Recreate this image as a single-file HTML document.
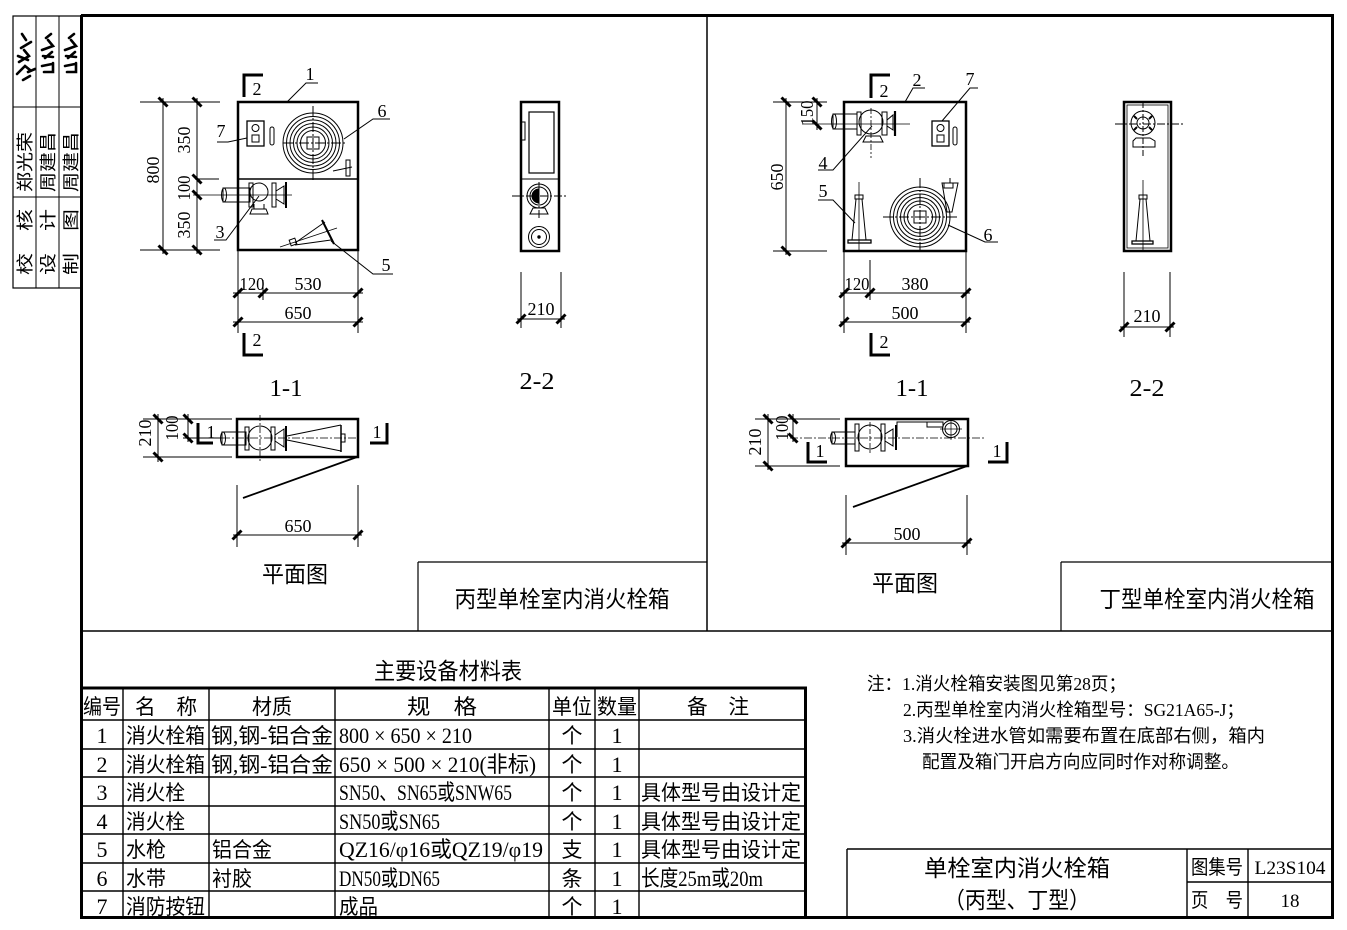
<!DOCTYPE html>
<html><head><meta charset="utf-8">
<style>
html,body{margin:0;padding:0;background:#fff;}
svg{display:block}
text{font-family:"Liberation Serif","Noto Sans CJK SC",serif;fill:#000;stroke:none}
.z{font-family:"Liberation Sans","Noto Sans CJK SC",sans-serif}
</style></head><body>
<svg width="1347" height="930" viewBox="0 0 1347 930" xmlns="http://www.w3.org/2000/svg">
<defs>
<path id="t" d="M-4.5,4.5 L4.5,-4.5" stroke="#000" stroke-width="3" fill="none"/>
<path id="tv" d="M-4.5,-4.5 L4.5,4.5" stroke="#000" stroke-width="3" fill="none"/>
</defs>
<g fill="none" stroke="#000" stroke-width="1">

<!-- ===== frame ===== -->
<line x1="81" y1="15.5" x2="1334" y2="15.5" stroke-width="3"/>
<line x1="81.5" y1="15" x2="81.5" y2="919" stroke-width="3"/>
<line x1="1332.5" y1="15" x2="1332.5" y2="919" stroke-width="3"/>
<line x1="81" y1="917.5" x2="1334" y2="917.5" stroke-width="3"/>
<line x1="707" y1="16" x2="707" y2="631" stroke-width="1.5"/>
<line x1="82" y1="631" x2="1332" y2="631" stroke-width="1.5"/>

<!-- signature block -->
<rect x="13" y="16" width="69" height="272" stroke-width="1.2"/>
<line x1="36" y1="16" x2="36" y2="288"/>
<line x1="59" y1="16" x2="59" y2="288"/>
<line x1="13" y1="107" x2="82" y2="107"/>
<line x1="13" y1="197" x2="82" y2="197"/>
<g stroke-width="2.6" stroke-linecap="round">
<path d="M17,74 L25,66 L30,70 M19,62 L29,56 L24,50 M21,48 L31,42 M26,40 L22,34 M18,56 L28,60 M28,72 L35,69 M23,80 L30,76"/>
<path d="M44,72 L53,72 L53,63 M42,66 L52,64 M45,58 L52,52 M42,50 L53,46 L48,40 M46,38 L51,34 M43,56 L53,57"/>
<path d="M67,72 L76,72 L76,63 M65,66 L75,64 M68,58 L75,52 M65,50 L76,46 L71,40 M69,38 L74,34 M66,56 L76,57"/>
</g>

<!-- ===== LEFT 1-1 ===== -->
<rect x="238" y="102" width="120" height="148" stroke-width="2.5"/>
<line x1="238" y1="179" x2="358" y2="179" stroke-width="1.5"/>
<line x1="140" y1="102" x2="220" y2="102"/>
<line x1="140" y1="250" x2="220" y2="250"/>
<line x1="195" y1="179" x2="219" y2="179"/>
<line x1="163" y1="98" x2="163" y2="254"/>
<line x1="197" y1="98" x2="197" y2="254"/>
<line x1="193" y1="195" x2="292" y2="195" stroke-width="0.8"/>
<path d="M263,75 L244,75 L244,97" stroke-width="3"/>
<path d="M244,333 L244,355 L263,355" stroke-width="3"/>
<path d="M287,102 L306,83 L318,83"/>
<g>
<circle cx="313" cy="143" r="30"/><circle cx="313" cy="143" r="26.5"/><circle cx="313" cy="143" r="23"/>
<circle cx="313" cy="143" r="19.5"/><circle cx="313" cy="143" r="16"/><circle cx="313" cy="143" r="12.5"/>
<rect x="307" y="137" width="12" height="12"/>
<line x1="283" y1="143" x2="345" y2="143" stroke-dasharray="10 2 2 2"/>
<line x1="313" y1="106" x2="313" y2="181" stroke-dasharray="10 2 2 2"/>
<path d="M333,171 L352,167"/><rect x="346" y="160" width="4" height="16"/>
</g>
<path d="M344,139 L373,119 L390,119"/>
<rect x="247" y="121" width="17" height="25" stroke-width="1.3"/>
<circle cx="255.5" cy="128" r="3.5"/>
<rect x="252" y="135" width="7" height="7"/>
<rect x="270" y="127" width="4" height="18" rx="2"/>
<path d="M247,138 L228,142 L217,142"/>
<rect x="223" y="188" width="27" height="14"/>
<ellipse cx="224" cy="195" rx="2.5" ry="7"/>
<rect x="249" y="183" width="4" height="24"/>
<circle cx="259" cy="192" r="9"/>
<rect x="272" y="183" width="4" height="24"/>
<path d="M276,191 L284,186 L284,204 L276,199"/>
<line x1="286" y1="182" x2="286" y2="208" stroke-width="2"/>
<path d="M254,204 L254,209 L264,209 L264,204 M250,214 L268,214 L266,209 L252,209 Z"/>
<path d="M259,196 L226,240 L214,240"/>
<line x1="280" y1="247" x2="337" y2="228" stroke-width="0.8"/>
<path d="M295,243 L325,222 M295,245 L331,240"/>
<rect x="290" y="239" width="6" height="6" transform="rotate(-20 293 242)"/>
<path d="M322,220 L334,244" stroke-width="2"/>
<path d="M331,241 L373,274 L393,274"/>
<line x1="238" y1="250" x2="238" y2="333"/>
<line x1="358" y1="250" x2="358" y2="333"/>
<line x1="263" y1="280" x2="263" y2="300"/>
<line x1="233" y1="293" x2="363" y2="293"/>
<line x1="233" y1="322" x2="363" y2="322"/>

<!-- ===== LEFT 2-2 ===== -->
<rect x="521" y="102" width="38" height="149" stroke-width="2.5"/>
<rect x="529" y="112" width="25" height="61" stroke-width="1.2"/>
<rect x="521" y="122" width="4" height="18"/>
<line x1="521" y1="179" x2="559" y2="179"/>
<circle cx="539" cy="196" r="12"/>
<circle cx="539" cy="196" r="9"/>
<path d="M539,189 A7,7 0 0 0 539,203 Z" fill="#000"/>
<line x1="512" y1="196" x2="566" y2="196" stroke-dasharray="8 2 2 2"/>
<line x1="539" y1="182" x2="539" y2="218" stroke-dasharray="8 2 2 2"/>
<path d="M530,214 L548,214 L545,208 L533,208 Z"/>
<circle cx="539" cy="237" r="10.5"/>
<circle cx="539" cy="237" r="7.5"/>
<circle cx="539" cy="237" r="1.2" fill="#000"/>
<line x1="521" y1="272" x2="521" y2="328"/>
<line x1="561" y1="272" x2="561" y2="328"/>
<line x1="517" y1="319" x2="565" y2="319"/>

<!-- ===== LEFT PLAN ===== -->
<rect x="237" y="419" width="121" height="38" stroke-width="2.5"/>
<line x1="143" y1="419" x2="232" y2="419"/>
<line x1="143" y1="457" x2="232" y2="457"/>
<line x1="183" y1="438" x2="222" y2="438"/>
<line x1="222" y1="438" x2="358" y2="438" stroke-dasharray="8 2 2 2" stroke-width="0.8"/>
<line x1="158" y1="414" x2="158" y2="462"/>
<line x1="188" y1="414" x2="188" y2="442"/>
<path d="M198,423 L198,443 L213,443" stroke-width="3"/>
<path d="M370,443 L387,443 L387,423" stroke-width="3"/>
<rect x="222" y="432" width="24" height="13"/>
<ellipse cx="223" cy="438.5" rx="2.5" ry="6.5"/>
<rect x="245" y="427" width="4" height="23"/>
<circle cx="260" cy="438" r="12"/>
<line x1="260" y1="415" x2="260" y2="461" stroke-dasharray="6 2 2 2" stroke-width="0.8"/>
<rect x="271" y="427" width="4" height="23"/>
<path d="M275,435 L284,429 L284,447 L275,441"/>
<line x1="286" y1="426" x2="286" y2="451" stroke-width="2"/>
<path d="M287,436 L341,425 M287,440 L341,451"/>
<line x1="341" y1="425" x2="341" y2="452" stroke-width="1.5"/>
<rect x="341" y="434" width="4" height="8"/>
<line x1="357" y1="457" x2="243" y2="498" stroke-width="1.8"/>
<line x1="237" y1="485" x2="237" y2="547"/>
<line x1="358" y1="485" x2="358" y2="547"/>
<line x1="233" y1="535" x2="362" y2="535"/>

<line x1="418" y1="562" x2="707" y2="562" stroke-width="1.2"/>
<line x1="418" y1="562" x2="418" y2="631" stroke-width="1.2"/>

<!-- ===== RIGHT 1-1 ===== -->
<rect x="844" y="102" width="122" height="149" stroke-width="2.5"/>
<line x1="773" y1="102" x2="827" y2="102"/>
<line x1="773" y1="251" x2="827" y2="251"/>
<line x1="786" y1="98" x2="786" y2="255"/>
<line x1="817" y1="98" x2="817" y2="130"/>
<line x1="802" y1="124" x2="910" y2="124" stroke-width="0.8"/>
<path d="M890,75 L871,75 L871,98" stroke-width="3"/>
<path d="M871,333 L871,355 L890,355" stroke-width="3"/>
<path d="M905,102 L913,88 L925,88"/>
<rect x="833" y="114" width="24" height="15"/>
<ellipse cx="834" cy="121.5" rx="2.5" ry="7.5"/>
<rect x="857" y="112" width="4" height="23"/>
<circle cx="871" cy="122" r="12"/>
<rect x="882" y="112" width="5" height="23"/>
<path d="M887,120 L893,115 L893,130 L887,126"/>
<line x1="895" y1="111" x2="895" y2="136" stroke-width="2.2"/>
<path d="M863,142 L883,142 L880,136 L866,136 Z"/>
<line x1="871" y1="108" x2="871" y2="158" stroke-dasharray="6 2 2 2" stroke-width="0.8"/>
<path d="M872,126 L833,170 L818,170"/>
<rect x="932" y="121" width="17" height="25" stroke-width="1.3"/>
<circle cx="940.5" cy="128" r="3.5"/>
<rect x="937" y="135" width="7" height="7"/>
<rect x="953" y="127" width="4" height="18" rx="2"/>
<path d="M942,121 L970,88 L978,88"/>
<line x1="859" y1="182" x2="859" y2="250" stroke-width="0.8"/>
<rect x="855" y="195" width="8" height="4"/>
<path d="M856,199 L852,240 M862,199 L866,240"/>
<rect x="848" y="240" width="23" height="3" stroke-width="1.3"/>
<path d="M855,223 L833,200 L818,200"/>
<circle cx="920" cy="217" r="30"/><circle cx="920" cy="217" r="26.5"/><circle cx="920" cy="217" r="23"/>
<circle cx="920" cy="217" r="19.5"/><circle cx="920" cy="217" r="16"/><circle cx="920" cy="217" r="12.5"/>
<rect x="914" y="211" width="12" height="12"/>
<line x1="883" y1="217" x2="957" y2="217" stroke-dasharray="10 2 2 2"/>
<line x1="920" y1="178" x2="920" y2="254" stroke-dasharray="10 2 2 2"/>
<path d="M942,183 L958,183 L952,212 L947,212 Z"/>
<rect x="944" y="183" width="9" height="5"/>
<line x1="950" y1="178" x2="950" y2="183"/>
<path d="M948,225 L985,242 L998,242"/>
<line x1="844" y1="251" x2="844" y2="333"/>
<line x1="966" y1="251" x2="966" y2="333"/>
<line x1="870" y1="260" x2="870" y2="300"/>
<line x1="840" y1="293" x2="970" y2="293"/>
<line x1="840" y1="322" x2="970" y2="322"/>

<!-- ===== RIGHT 2-2 ===== -->
<rect x="1124" y="102" width="47" height="149" stroke-width="2.5"/>
<rect x="1127" y="105" width="41" height="143" stroke-width="0.8"/>
<line x1="1115" y1="124" x2="1185" y2="124" stroke-dasharray="8 2 2 2"/>
<line x1="1143" y1="102" x2="1143" y2="158" stroke-dasharray="6 2 2 2"/>
<circle cx="1143" cy="123" r="12"/>
<circle cx="1143" cy="123" r="6"/>
<path d="M1134,116 L1137,119 M1152,116 L1149,119 M1134,130 L1137,127 M1152,130 L1149,127" stroke-width="2"/>
<path d="M1136,138 L1150,138 L1155,141 L1155,147 L1133,147 L1133,141 Z"/>
<line x1="1143" y1="180" x2="1143" y2="250" stroke-width="0.8"/>
<rect x="1139" y="195" width="8" height="4"/>
<path d="M1140,199 L1136,241 M1146,199 L1150,241"/>
<rect x="1132" y="241" width="21" height="3" stroke-width="1.3"/>
<line x1="1124" y1="272" x2="1124" y2="337"/>
<line x1="1170" y1="272" x2="1170" y2="337"/>
<line x1="1120" y1="327" x2="1174" y2="327"/>

<!-- ===== RIGHT PLAN ===== -->
<rect x="846" y="419" width="122" height="47" stroke-width="2.5"/>
<line x1="755" y1="419" x2="840" y2="419"/>
<line x1="755" y1="466" x2="840" y2="466"/>
<line x1="790" y1="438" x2="985" y2="438" stroke-dasharray="8 2 2 2" stroke-width="0.8"/>
<line x1="768" y1="414" x2="768" y2="470"/>
<line x1="793" y1="414" x2="793" y2="442"/>
<path d="M808,442 L808,462 L827,462" stroke-width="3"/>
<path d="M988,462 L1007,462 L1007,442" stroke-width="3"/>
<rect x="832" y="432" width="23" height="12"/>
<ellipse cx="833" cy="438" rx="2.5" ry="6"/>
<rect x="855" y="424" width="4" height="27"/>
<circle cx="870" cy="437" r="12"/>
<line x1="870" y1="422" x2="870" y2="453" stroke-width="0.8" stroke-dasharray="5 2"/>
<rect x="881" y="424" width="4" height="27"/>
<path d="M885,434 L893,429 L893,446 L885,441"/>
<line x1="896" y1="425" x2="896" y2="450" stroke-width="2"/>
<path d="M897,437 L897,422 L943,422"/>
<rect x="927" y="422" width="16" height="5"/>
<circle cx="951" cy="429" r="8.5"/>
<circle cx="951" cy="429" r="6"/>
<line x1="940" y1="429" x2="962" y2="429" stroke-width="0.7"/>
<line x1="951" y1="418" x2="951" y2="440" stroke-width="0.7"/>
<line x1="967" y1="466" x2="853" y2="507" stroke-width="1.8"/>
<line x1="846" y1="495" x2="846" y2="555"/>
<line x1="967" y1="495" x2="967" y2="555"/>
<line x1="842" y1="543" x2="971" y2="543"/>

<line x1="1061" y1="562" x2="1333" y2="562" stroke-width="1.2"/>
<line x1="1061" y1="562" x2="1061" y2="631" stroke-width="1.2"/>

<!-- ===== TABLE ===== -->
<line x1="81" y1="688" x2="807" y2="688" stroke-width="3"/>
<line x1="805.5" y1="687" x2="805.5" y2="918" stroke-width="3"/>
<g stroke-width="1.4">
<line x1="82" y1="720" x2="805" y2="720"/>
<line x1="82" y1="749" x2="805" y2="749"/>
<line x1="82" y1="777" x2="805" y2="777"/>
<line x1="82" y1="806" x2="805" y2="806"/>
<line x1="82" y1="834" x2="805" y2="834"/>
<line x1="82" y1="863" x2="805" y2="863"/>
<line x1="82" y1="891" x2="805" y2="891"/>
<line x1="123" y1="688" x2="123" y2="917"/>
<line x1="209" y1="688" x2="209" y2="917"/>
<line x1="335" y1="688" x2="335" y2="917"/>
<line x1="549" y1="688" x2="549" y2="917"/>
<line x1="595" y1="688" x2="595" y2="917"/>
<line x1="639" y1="688" x2="639" y2="917"/>
</g>

<!-- ===== TITLE BLOCK ===== -->
<g stroke-width="1.4">
<line x1="847" y1="849" x2="1332" y2="849"/>
<line x1="847" y1="849" x2="847" y2="917"/>
<line x1="1187" y1="849" x2="1187" y2="917"/>
<line x1="1248" y1="849" x2="1248" y2="917"/>
<line x1="1187" y1="882" x2="1332" y2="882"/>
</g>
</g>

<!-- ===== TICKS ===== -->
<use href="#tv" x="163" y="102"/><use href="#tv" x="163" y="250"/>
<use href="#tv" x="197" y="102"/><use href="#tv" x="197" y="179"/><use href="#tv" x="197" y="195"/><use href="#tv" x="197" y="250"/>
<use href="#t" x="238" y="293"/><use href="#t" x="263" y="293"/><use href="#t" x="358" y="293"/>
<use href="#t" x="238" y="322"/><use href="#t" x="358" y="322"/>
<use href="#t" x="521" y="319"/><use href="#t" x="561" y="319"/>
<use href="#tv" x="158" y="419"/><use href="#tv" x="158" y="457"/>
<use href="#tv" x="188" y="419"/><use href="#tv" x="188" y="438"/>
<use href="#t" x="237" y="535"/><use href="#t" x="358" y="535"/>
<use href="#tv" x="786" y="102"/><use href="#tv" x="786" y="251"/>
<use href="#tv" x="817" y="102"/><use href="#tv" x="817" y="125"/>
<use href="#t" x="844" y="293"/><use href="#t" x="870" y="293"/><use href="#t" x="966" y="293"/>
<use href="#t" x="844" y="322"/><use href="#t" x="966" y="322"/>
<use href="#t" x="1124" y="327"/><use href="#t" x="1170" y="327"/>
<use href="#tv" x="768" y="419"/><use href="#tv" x="768" y="466"/>
<use href="#tv" x="793" y="419"/><use href="#tv" x="793" y="438"/>
<use href="#t" x="846" y="543"/><use href="#t" x="967" y="543"/>

<!-- ===== TEXT ===== -->
<g font-size="17" class="z">
<text transform="translate(31,242) rotate(-90)" text-anchor="middle" textLength="66" lengthAdjust="spacingAndGlyphs">校　核</text>
<text transform="translate(31,162) rotate(-90)" text-anchor="middle" textLength="60" lengthAdjust="spacingAndGlyphs">郑光荣</text>
<text transform="translate(54,242) rotate(-90)" text-anchor="middle" textLength="66" lengthAdjust="spacingAndGlyphs">设　计</text>
<text transform="translate(54,162) rotate(-90)" text-anchor="middle" textLength="60" lengthAdjust="spacingAndGlyphs">周建昌</text>
<text transform="translate(77,242) rotate(-90)" text-anchor="middle" textLength="66" lengthAdjust="spacingAndGlyphs">制　图</text>
<text transform="translate(77,162) rotate(-90)" text-anchor="middle" textLength="60" lengthAdjust="spacingAndGlyphs">周建昌</text>
</g>

<g font-size="18" text-anchor="middle">
<text x="257" y="95">2</text>
<text x="257" y="346">2</text>
<text x="310" y="80">1</text>
<text x="382" y="117">6</text>
<text x="221" y="137">7</text>
<text x="220" y="238">3</text>
<text x="386" y="271">5</text>
<text transform="translate(159,170) rotate(-90)" textLength="27" lengthAdjust="spacingAndGlyphs">800</text>
<text transform="translate(190,140) rotate(-90)" textLength="27" lengthAdjust="spacingAndGlyphs">350</text>
<text transform="translate(190,188) rotate(-90)" textLength="25" lengthAdjust="spacingAndGlyphs">100</text>
<text transform="translate(190,225) rotate(-90)" textLength="27" lengthAdjust="spacingAndGlyphs">350</text>
<text x="252" y="290" textLength="25" lengthAdjust="spacingAndGlyphs">120</text>
<text x="308" y="290" textLength="27" lengthAdjust="spacingAndGlyphs">530</text>
<text x="298" y="319" textLength="27" lengthAdjust="spacingAndGlyphs">650</text>
<text x="541" y="315" textLength="27" lengthAdjust="spacingAndGlyphs">210</text>
<text x="211" y="438">1</text>
<text x="377" y="438">1</text>
<text transform="translate(151,433) rotate(-90)" textLength="27" lengthAdjust="spacingAndGlyphs">210</text>
<text transform="translate(178,428) rotate(-90)" textLength="25" lengthAdjust="spacingAndGlyphs">100</text>
<text x="298" y="532" textLength="27" lengthAdjust="spacingAndGlyphs">650</text>
<text x="884" y="97">2</text>
<text x="884" y="348">2</text>
<text x="917" y="86">2</text>
<text x="970" y="85">7</text>
<text x="823" y="169">4</text>
<text x="823" y="197">5</text>
<text x="988" y="241">6</text>
<text transform="translate(783,177) rotate(-90)" textLength="27" lengthAdjust="spacingAndGlyphs">650</text>
<text transform="translate(813,113) rotate(-90)" textLength="25" lengthAdjust="spacingAndGlyphs">150</text>
<text x="857" y="290" textLength="25" lengthAdjust="spacingAndGlyphs">120</text>
<text x="915" y="290" textLength="27" lengthAdjust="spacingAndGlyphs">380</text>
<text x="905" y="319" textLength="27" lengthAdjust="spacingAndGlyphs">500</text>
<text x="1147" y="322" textLength="27" lengthAdjust="spacingAndGlyphs">210</text>
<text x="820" y="457">1</text>
<text x="997" y="457">1</text>
<text transform="translate(761,442) rotate(-90)" textLength="27" lengthAdjust="spacingAndGlyphs">210</text>
<text transform="translate(788,428) rotate(-90)" textLength="25" lengthAdjust="spacingAndGlyphs">100</text>
<text x="907" y="540" textLength="27" lengthAdjust="spacingAndGlyphs">500</text>
</g>

<g font-size="24" text-anchor="middle">
<text x="286" y="396" textLength="33" lengthAdjust="spacingAndGlyphs">1-1</text>
<text x="537" y="389" textLength="35" lengthAdjust="spacingAndGlyphs">2-2</text>
<text x="912" y="396" textLength="33" lengthAdjust="spacingAndGlyphs">1-1</text>
<text x="1147" y="396" textLength="35" lengthAdjust="spacingAndGlyphs">2-2</text>
</g>

<g class="z" font-size="23" text-anchor="middle">
<text x="295" y="582" textLength="66" lengthAdjust="spacingAndGlyphs">平面图</text>
<text x="905" y="591" textLength="66" lengthAdjust="spacingAndGlyphs">平面图</text>
<text x="562" y="607" textLength="215" lengthAdjust="spacingAndGlyphs">丙型单栓室内消火栓箱</text>
<text x="1207" y="607" textLength="215" lengthAdjust="spacingAndGlyphs">丁型单栓室内消火栓箱</text>
<text x="448" y="679" textLength="148" lengthAdjust="spacingAndGlyphs">主要设备材料表</text>
</g>

<!-- table text -->
<g class="z" font-size="21">
<text x="102" y="714" text-anchor="middle" textLength="38" lengthAdjust="spacingAndGlyphs">编号</text>
<text x="166" y="714" text-anchor="middle" textLength="62" lengthAdjust="spacingAndGlyphs">名　称</text>
<text x="272" y="714" text-anchor="middle" textLength="40" lengthAdjust="spacingAndGlyphs">材质</text>
<text x="442" y="714" text-anchor="middle" textLength="70" lengthAdjust="spacingAndGlyphs">规　格</text>
<text x="572" y="714" text-anchor="middle" textLength="40" lengthAdjust="spacingAndGlyphs">单位</text>
<text x="617" y="714" text-anchor="middle" textLength="40" lengthAdjust="spacingAndGlyphs">数量</text>
<text x="718" y="714" text-anchor="middle" textLength="62" lengthAdjust="spacingAndGlyphs">备　注</text>

<text x="126" y="743" textLength="79" lengthAdjust="spacingAndGlyphs">消火栓箱</text>
<text x="211" y="743" textLength="122" lengthAdjust="spacingAndGlyphs">钢,钢-铝合金</text>
<text x="126" y="772" textLength="79" lengthAdjust="spacingAndGlyphs">消火栓箱</text>
<text x="211" y="772" textLength="122" lengthAdjust="spacingAndGlyphs">钢,钢-铝合金</text>
<text x="126" y="800" textLength="59" lengthAdjust="spacingAndGlyphs">消火栓</text>
<text x="126" y="829" textLength="59" lengthAdjust="spacingAndGlyphs">消火栓</text>
<text x="126" y="857" textLength="40" lengthAdjust="spacingAndGlyphs">水枪</text>
<text x="212" y="857" textLength="60" lengthAdjust="spacingAndGlyphs">铝合金</text>
<text x="126" y="886" textLength="40" lengthAdjust="spacingAndGlyphs">水带</text>
<text x="212" y="886" textLength="40" lengthAdjust="spacingAndGlyphs">衬胶</text>
<text x="126" y="914" textLength="79" lengthAdjust="spacingAndGlyphs">消防按钮</text>
<text x="339" y="914" textLength="39" lengthAdjust="spacingAndGlyphs">成品</text>

<g text-anchor="middle">
<text x="572" y="743">个</text><text x="572" y="772">个</text><text x="572" y="800">个</text>
<text x="572" y="829">个</text><text x="572" y="857">支</text><text x="572" y="886">条</text><text x="572" y="914">个</text>
</g>
<text x="641" y="800" textLength="160" lengthAdjust="spacingAndGlyphs">具体型号由设计定</text>
<text x="641" y="829" textLength="160" lengthAdjust="spacingAndGlyphs">具体型号由设计定</text>
<text x="641" y="857" textLength="160" lengthAdjust="spacingAndGlyphs">具体型号由设计定</text>
</g>
<g font-size="22">
<g text-anchor="middle">
<text x="102" y="743">1</text><text x="102" y="772">2</text><text x="102" y="800">3</text><text x="102" y="829">4</text>
<text x="102" y="857">5</text><text x="102" y="886">6</text><text x="102" y="914">7</text>
<text x="617" y="743">1</text><text x="617" y="772">1</text><text x="617" y="800">1</text><text x="617" y="829">1</text>
<text x="617" y="857">1</text><text x="617" y="886">1</text><text x="617" y="914">1</text>
</g>
<text x="339" y="743" textLength="133" lengthAdjust="spacingAndGlyphs">800 × 650 × 210</text>
<text x="339" y="772" textLength="197" lengthAdjust="spacingAndGlyphs">650 × 500 × 210(非标)</text>
<text x="339" y="800" textLength="173" lengthAdjust="spacingAndGlyphs">SN50、SN65或SNW65</text>
<text x="339" y="829" textLength="101" lengthAdjust="spacingAndGlyphs">SN50或SN65</text>
<text x="339" y="857" textLength="204" lengthAdjust="spacingAndGlyphs">QZ16/φ16或QZ19/φ19</text>
<text x="339" y="886" textLength="101" lengthAdjust="spacingAndGlyphs">DN50或DN65</text>
<text x="641" y="886" textLength="122" lengthAdjust="spacingAndGlyphs">长度25m或20m</text>
</g>

<!-- notes -->
<g class="z" font-size="18">
<text x="867" y="690" textLength="259" lengthAdjust="spacingAndGlyphs">注：1.消火栓箱安装图见第28页；</text>
<text x="903" y="716" textLength="341" lengthAdjust="spacingAndGlyphs">2.丙型单栓室内消火栓箱型号：SG21A65-J；</text>
<text x="903" y="742" textLength="362" lengthAdjust="spacingAndGlyphs">3.消火栓进水管如需要布置在底部右侧，箱内</text>
<text x="922" y="768" textLength="317" lengthAdjust="spacingAndGlyphs">配置及箱门开启方向应同时作对称调整。</text>
</g>

<g class="z" font-size="23" text-anchor="middle">
<text x="1017" y="876" textLength="186" lengthAdjust="spacingAndGlyphs">单栓室内消火栓箱</text>
<text x="1017" y="908" textLength="146" lengthAdjust="spacingAndGlyphs">（丙型、丁型）</text>
</g>
<g class="z" font-size="20" text-anchor="middle">
<text x="1217" y="874" textLength="52" lengthAdjust="spacingAndGlyphs">图集号</text>
<text x="1217" y="907" textLength="52" lengthAdjust="spacingAndGlyphs">页　号</text>
</g>
<g font-size="19" text-anchor="middle">
<text x="1290" y="874" textLength="71" lengthAdjust="spacingAndGlyphs">L23S104</text>
<text x="1290" y="907">18</text>
</g>
</svg>
</body></html>
